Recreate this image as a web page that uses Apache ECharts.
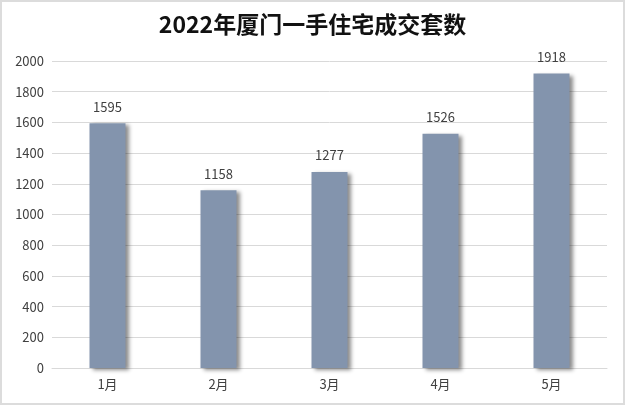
<!DOCTYPE html>
<html><head><meta charset="utf-8">
<script src="https://cdn.jsdelivr.net/npm/echarts@6/dist/echarts.min.js"></script>
<style>html,body{margin:0;padding:0;background:#fff}#c{width:621px;height:401px;border:2px solid #dcdcdc}</style>
</head><body><div id="c"></div>
<script>
var categories = ['1月','2月','3月','4月','5月'];
var values = [1595, 1158, 1277, 1526, 1918];
var title = '2022年厦门一手住宅成交套数';
var chart = echarts.init(document.getElementById('c'));
chart.setOption({
  animation:false,
  title:{text:title,left:'center',top:6,textStyle:{fontFamily:'Noto Sans CJK SC',fontSize:23,fontWeight:'bold',color:'#111'}},
  grid:{left:50,right:16,top:59,bottom:35},
  xAxis:{type:'category',data:categories,axisTick:{show:false},axisLine:{lineStyle:{color:'#d9d9d9'}},
    axisLabel:{color:'#404040',fontSize:13,fontFamily:'Noto Sans CJK SC',margin:10}},
  yAxis:{type:'value',min:0,max:2000,interval:200,axisLine:{show:false},axisTick:{show:false},
    splitLine:{lineStyle:{color:'#d9d9d9'}},
    axisLabel:{color:'#404040',fontSize:13,fontFamily:'Noto Sans CJK SC',margin:8,formatter:function(v){return String(v);}}},
  series:[{type:'bar',data:values,barWidth:36,
    itemStyle:{color:'#8394ad',shadowColor:'rgba(0,0,0,0.45)',shadowBlur:4,shadowOffsetX:3,shadowOffsetY:2},
    label:{show:true,position:'top',distance:10,color:'#404040',fontSize:13,fontFamily:'Noto Sans CJK SC'}}]
});
</script></body></html>
